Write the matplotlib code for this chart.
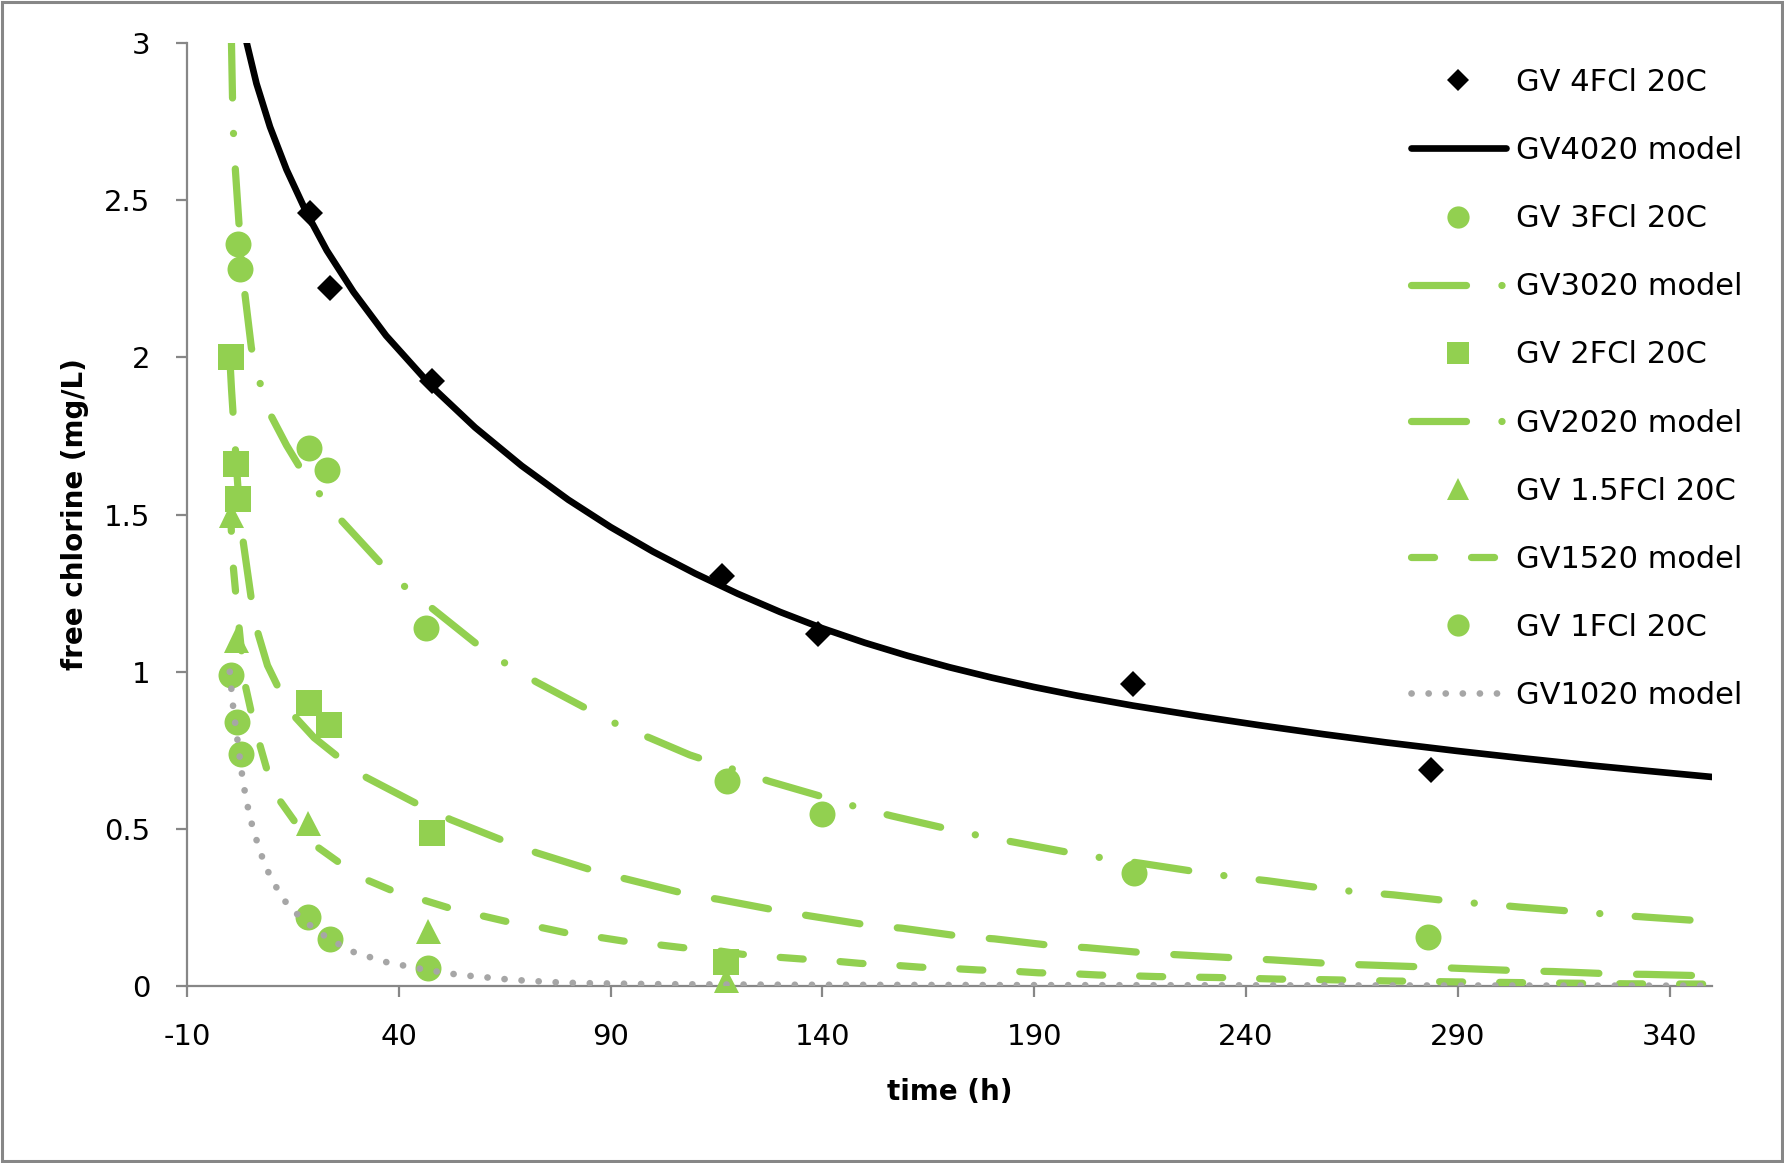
import matplotlib
matplotlib.use("Agg")
import matplotlib.pyplot as plt
from matplotlib.lines import Line2D
from matplotlib.patches import Rectangle

plt.rcParams['font.family'] = ['DejaVu Sans']
plt.rcParams['lines.scale_dashes'] = False
plt.rcParams['axes.unicode_minus'] = False

green = "#92D050"
dot_grey = "#A6A6A6"
axis_grey = "#878787"

# measured points
gv4_t = [19.0, 23.8, 47.9, 116.2, 138.9, 213.3, 283.6]
gv4_c = [2.46, 2.22, 1.925, 1.303, 1.121, 0.961, 0.688]

gv3_t = [2.1, 2.5, 18.8, 23.1, 46.4, 117.4, 139.8, 213.6, 283.0]
gv3_c = [2.36, 2.28, 1.71, 1.64, 1.139, 0.651, 0.548, 0.359, 0.157]

gv2_t = [0.3, 1.5, 2.0, 18.8, 23.5, 47.8, 117.3]
gv2_c = [2.0, 1.66, 1.55, 0.90, 0.829, 0.488, 0.075]

gv15_t = [0.3, 1.5, 18.6, 46.8, 117.2]
gv15_c = [1.497, 1.10, 0.518, 0.176, 0.02]

gv1_t = [0.3, 1.8, 2.75, 18.6, 23.8, 46.8]
gv1_c = [0.99, 0.84, 0.739, 0.218, 0.149, 0.058]

# model curves
m4020_t = [4.1, 6.4, 9.6, 13.5, 18.3, 23.0, 29.3, 37.0, 48.0, 58.0, 69.0, 80.0, 90.0,
           100.0, 110.0, 120.0, 130.0, 140.0, 150.0, 160.0, 170.0, 180.0, 190.0, 200.0,
           213.3, 229.1, 243.0, 258.3, 273.0, 289.7, 305.0, 321.2, 335.0, 350.0]
m4020_c = [3.0, 2.871, 2.733, 2.597, 2.458, 2.34, 2.208, 2.069, 1.904, 1.777, 1.655, 1.547,
           1.46, 1.382, 1.312, 1.248, 1.19, 1.138, 1.092, 1.051, 1.014, 0.981, 0.951, 0.924,
           0.892, 0.858, 0.83, 0.801, 0.775, 0.748, 0.725, 0.702, 0.684, 0.665]

m3020_t = [0.5, 0.75, 0.95, 1.35, 2.3, 3.5, 5.2, 7.4, 10.0, 13.5, 17.1, 21.6, 26.5, 36.4,
           42.0, 48.0, 59.4, 65.9, 72.5, 85.5, 92.2, 99.3, 108.7, 120.4, 127.5, 141.8,
           149.0, 156.4, 170.5, 178.2, 185.9, 200.0, 207.9, 215.4, 229.0, 237.6, 245.0,
           259.8, 267.5, 274.8, 289.7, 297.4, 304.7, 319.6, 327.3, 334.6, 350.0]
m3020_c = [3.0, 2.82, 2.72, 2.61, 2.42, 2.22, 2.03, 1.91, 1.81, 1.72, 1.64, 1.56, 1.48, 1.335,
           1.263, 1.20, 1.077, 1.02, 0.967, 0.874, 0.828, 0.789, 0.735, 0.683, 0.651, 0.595,
           0.566, 0.541, 0.497, 0.475, 0.456, 0.42, 0.404, 0.39, 0.362, 0.346, 0.335,
           0.308, 0.298, 0.29, 0.268, 0.26, 0.251, 0.235, 0.226, 0.219, 0.205]

m2020_t = [0.1, 0.5, 0.93, 2.0, 3.3, 5.3, 6.8, 9.0, 12.0, 15.7, 20.0, 26.5, 32.4, 45.5,
           52.3, 65.9, 72.7, 86.7, 93.8, 108.7, 115.4, 129.8, 137.0, 151.6, 158.7, 173.3,
           180.6, 195.3, 202.4, 217.3, 224.4, 239.4, 246.4, 261.4, 268.5, 283.4, 290.5,
           305.5, 312.6, 327.5, 334.6, 350.0]
m2020_c = [2.0, 1.9, 1.81, 1.59, 1.41, 1.22, 1.12, 1.02, 0.937, 0.853, 0.79, 0.72, 0.663, 0.571,
           0.529, 0.456, 0.423, 0.364, 0.34, 0.29, 0.276, 0.239, 0.223, 0.192, 0.184, 0.157,
           0.15, 0.127, 0.122, 0.104, 0.099, 0.088, 0.083, 0.07, 0.067, 0.06, 0.056,
           0.048, 0.046, 0.038, 0.037, 0.032]

m1520_t = [0.25, 0.55, 0.95, 1.6, 2.6, 3.7, 5.3, 7.2, 9.0, 11.8, 15.7, 20.6, 26.1, 32.0,
           38.5, 45.2, 51.7, 58.8, 65.5, 72.6, 79.2, 86.3, 93.0, 100.1, 107.0, 113.9,
           121.0, 128.0, 135.1, 142.2, 148.9, 156.0, 163.0, 170.1, 176.8, 183.9, 191.0,
           197.7, 205.1, 211.8, 218.9, 233.0, 247.3, 259.0, 274.0, 290.0, 310.0, 330.0, 350.0]
m1520_c = [1.52, 1.42, 1.33, 1.235, 1.10, 0.96, 0.863, 0.767, 0.682, 0.592, 0.518, 0.444,
           0.391, 0.34, 0.303, 0.276, 0.249, 0.226, 0.205, 0.189, 0.17, 0.157, 0.143, 0.133,
           0.122, 0.115, 0.101, 0.093, 0.086, 0.08, 0.072, 0.067, 0.06, 0.056, 0.051, 0.048,
           0.042, 0.04, 0.035, 0.033, 0.03, 0.027, 0.022, 0.02, 0.016, 0.013, 0.01, 0.007, 0.006]

m1020_t = [0.1, 0.55, 0.95, 3.05, 3.7, 4.5, 5.4, 6.6, 7.9, 9.4, 11.3, 13.5, 17.0, 20.5, 23.5,
           26.1, 29.5, 33.4, 37.3, 41.2, 47.0, 53.0, 57.0, 61.0, 64.9, 68.9, 72.8, 76.8,
           80.8, 84.7, 100.0, 130.0, 180.0, 250.0, 350.0]
m1020_c = [1.0, 0.934, 0.88, 0.667, 0.614, 0.56, 0.51, 0.456, 0.404, 0.356, 0.309, 0.263,
           0.215, 0.178, 0.15, 0.131, 0.107, 0.091, 0.075, 0.065, 0.05, 0.038, 0.032, 0.027,
           0.022, 0.018, 0.015, 0.012, 0.010, 0.009, 0.006, 0.004, 0.003, 0.002, 0.001]

x_ticks = [-10, 40, 90, 140, 190, 240, 290, 340]
y_ticks = [0, 0.5, 1, 1.5, 2, 2.5, 3]
y_tick_labels = ['0', '0.5', '1', '1.5', '2', '2.5', '3']

legend_labels = ['GV 4FCl 20C', 'GV4020 model', 'GV 3FCl 20C', 'GV3020 model',
                 'GV 2FCl 20C', 'GV2020 model', 'GV 1.5FCl 20C', 'GV1520 model',
                 'GV 1FCl 20C', 'GV1020 model']

dashdot = (39.6, 25.5, 0.1, 25.5)
longdash = (39.6, 27.1)
meddash = (16.6, 26.6)
dotted = (0.1, 12.2)

W, H = 1784, 1163
fig = plt.figure(figsize=(W / 100, H / 100), dpi=100)
ax = fig.add_axes([187 / W, 1 - 986 / H, (1712 - 187) / W, (986 - 43) / H])

mk = dict(ls='none', mew=0, clip_on=False, zorder=4)
ax.plot(gv4_t, gv4_c, marker='D', ms=13, color='black', **mk)
ax.plot(m4020_t, m4020_c, color='black', lw=4.8, zorder=3)
ax.plot(gv3_t, gv3_c, marker='o', ms=18.7, color=green, **mk)
ax.plot(m3020_t, m3020_c, color=green, lw=5.2, dashes=dashdot, dash_capstyle='round', zorder=5)
ax.plot(gv2_t, gv2_c, marker='s', ms=18.5, color=green, **mk)
ax.plot(m2020_t, m2020_c, color=green, lw=5.2, dashes=longdash, dash_capstyle='round', zorder=5)
ax.plot(gv15_t, gv15_c, marker='^', ms=18, color=green, **mk)
ax.plot(m1520_t, m1520_c, color=green, lw=5.2, dashes=meddash, dash_capstyle='round', zorder=5)
ax.plot(gv1_t, gv1_c, marker='o', ms=18.7, color=green, **mk)
ax.plot(m1020_t, m1020_c, color=dot_grey, lw=4.8, dashes=dotted, dash_capstyle='round', zorder=5)

ax.set_xlim(-10, 350)
ax.set_ylim(0, 3)
ax.set_xticks(x_ticks)
ax.set_yticks(y_ticks)
ax.set_yticklabels(y_tick_labels)
for s in ['top', 'right']:
    ax.spines[s].set_visible(False)
for s in ['left', 'bottom']:
    ax.spines[s].set_color(axis_grey)
    ax.spines[s].set_linewidth(1.6)
ax.tick_params(direction='out', length=8, width=1.6, color=axis_grey,
               labelsize=21, pad=18.5, labelcolor='black')

ax.set_xlabel('time (h)', fontsize=20, fontweight='bold')
ax.xaxis.set_label_coords(0.5, -0.098)
ax.set_ylabel('free chlorine (mg/L)', fontsize=20, fontweight='bold')
ax.yaxis.set_label_coords(-0.064, 0.5)

# legend proxies (look as in the original legend)
lk = dict(ls='none', mew=0)
handles = [
    Line2D([], [], marker='D', ms=11, color='black', **lk),
    Line2D([], [], color='black', lw=4.8, solid_capstyle='round'),
    Line2D([], [], marker='o', ms=16, color=green, **lk),
    Line2D([], [], color=green, lw=5.2, dashes=dashdot, dash_capstyle='round'),
    Line2D([], [], marker='s', ms=16, color=green, **lk),
    Line2D([], [], color=green, lw=5.2, dashes=dashdot, dash_capstyle='round'),
    Line2D([], [], marker='^', ms=16, color=green, **lk),
    Line2D([], [], color=green, lw=5.2, dashes=meddash, dash_capstyle='round'),
    Line2D([], [], marker='o', ms=16, color=green, **lk),
    Line2D([], [], color=dot_grey, lw=4.8, dashes=dotted, dash_capstyle='round'),
]
ax.legend(handles, legend_labels, loc='upper left',
          bbox_to_anchor=(1411 / W, 1 - 68 / H), bbox_transform=fig.transFigure,
          frameon=False, fontsize=22, handlelength=3.1, handletextpad=0.35,
          labelspacing=1.28, borderpad=0, borderaxespad=0)

# outer chart border
fig.add_artist(Rectangle((1.5 / W, 2.5 / H), 1780 / W, 1159 / H, transform=fig.transFigure,
                         fill=False, edgecolor=axis_grey, linewidth=2.2))

fig.savefig('out.png', dpi=100)
